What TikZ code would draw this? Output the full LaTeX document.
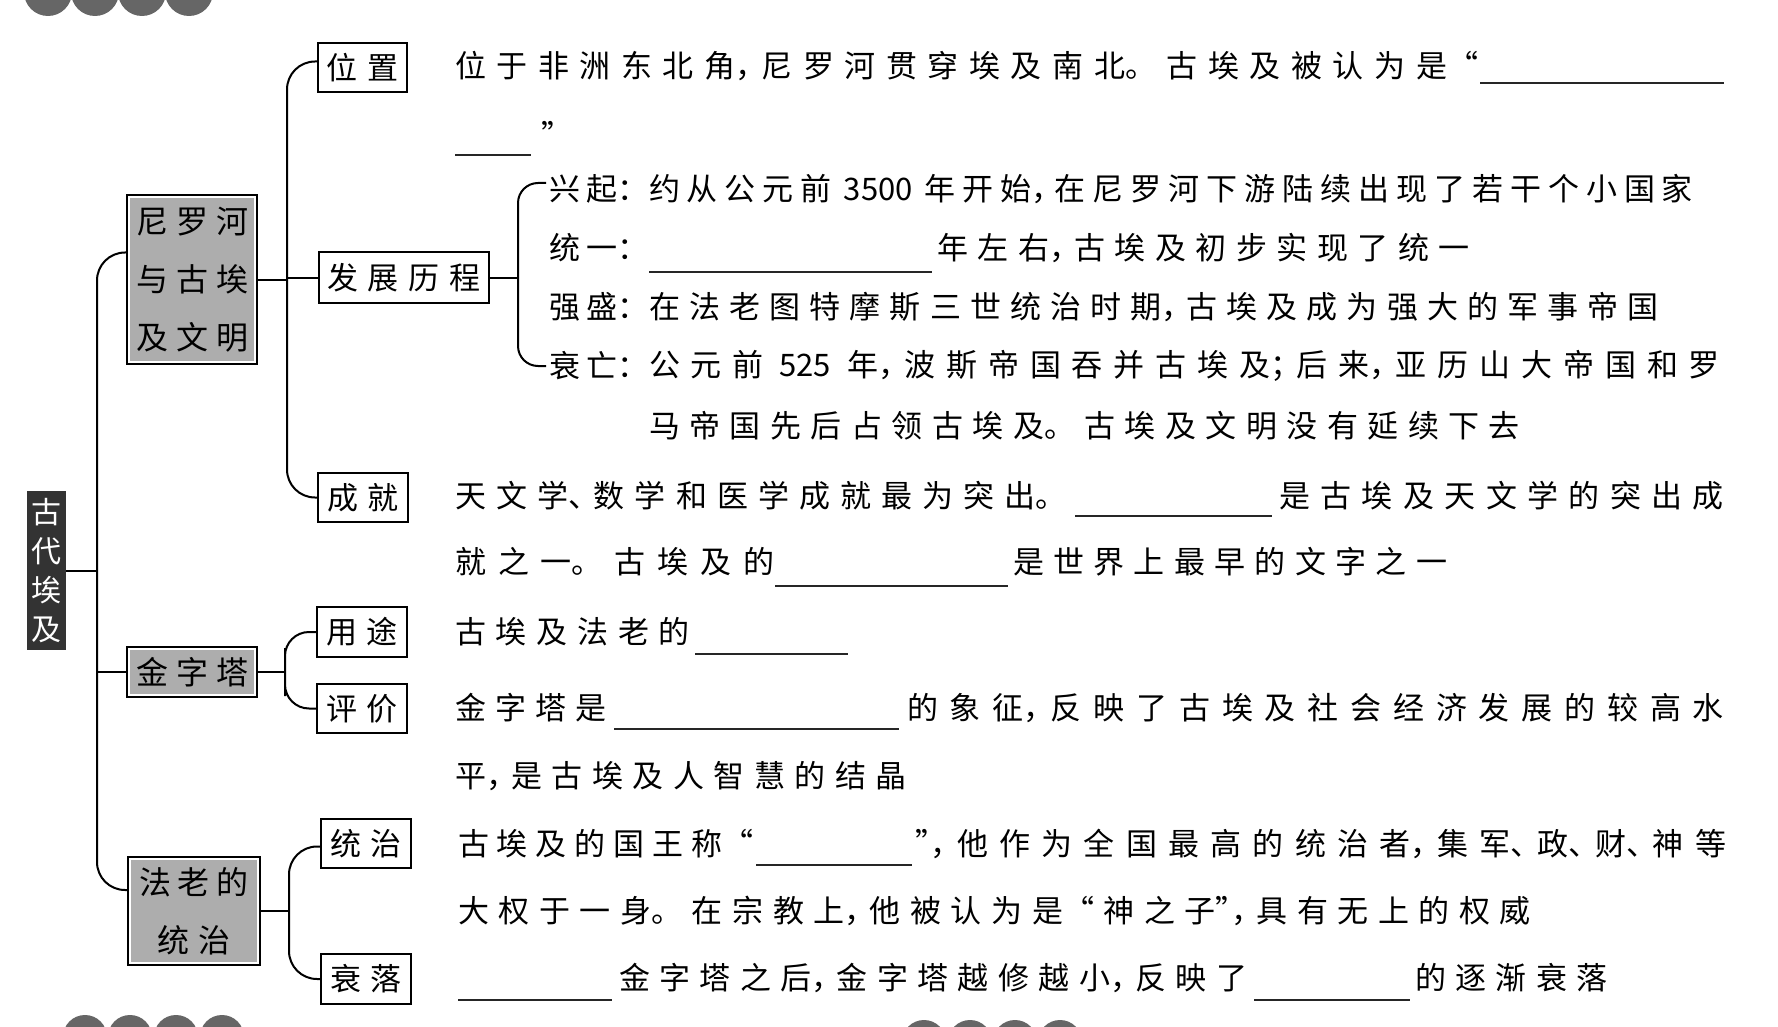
\documentclass[tikz,border=0pt]{standalone}
\usepackage{fontspec}
\setmainfont{Noto Sans CJK SC}
\def\sprstop{\sprstop}
\def\spr#1{\sprA#1\sprstop}
\def\sprA#1{#1\sprB}
\def\sprB#1{\def\sprtmp{#1}\ifx\sprtmp\sprstop\else\hfil#1\expandafter\sprB\fi}
\newcommand\hc[1]{\hbox to .5em{#1\hss}}
\newcommand\txtseg[5]{\node[seg] (#1) at (#2,#3) {\hbox to #4pt{\spr{#5}}};}
\newcommand\blankat[3]{\draw[blankline] (#1,#3) -- (#2,#3);}
\tikzset{
 conn/.style={line width=2pt, draw=black},
 blankline/.style={line width=1.6pt, draw=black!85},
 seg/.style={anchor=west, inner sep=0pt, outer sep=0pt, font=\fontsize{31}{36}\selectfont},
 keybox/.style={draw=black, line width=1.6pt, fill=white, inner sep=0pt, font=\fontsize{31}{36}\selectfont},
 grayinner/.style={path picture={\fill[black!32] ([shift={(3pt,3pt)}]path picture bounding box.south west) rectangle ([shift={(-3pt,-3pt)}]path picture bounding box.north east);}},
 topicbox/.style={draw=black, line width=1.6pt, fill=white, inner sep=0pt, grayinner, align=center, font=\fontsize{32}{58}\selectfont},
 rootbox/.style={fill=black!80, text=white, inner sep=0pt, align=center, font=\fontsize{30}{39}\selectfont},
 deco/.style={fill=black!60},
}
\begin{document}
\begin{tikzpicture}[x=1pt,y=-1pt]
\useasboundingbox (0,0) rectangle (1778,1027);
\fill[white] (0,0) rectangle (1778,1027);
\begin{scope}
\clip (0,0) rectangle (1778,1027);
\foreach \cx in {48,95,142,189} \fill[deco] (\cx,-8) circle (24pt);
\foreach \cx in {85,130,176,222} \fill[deco] (\cx,1037) circle (22pt);
\foreach \cx in {924,970,1015,1060} \fill[deco] (\cx,1042) circle (22pt);
\end{scope}

% main boxes
\node[rootbox, minimum width=39pt, minimum height=159pt] (egypt) at (46.5,570.5) {古\\代\\埃\\及};
\node[topicbox, minimum width=130pt, minimum height=169pt] (nile) at (192,279.5) {\hbox to 112pt{\spr{尼罗河}}\\\hbox to 112pt{\spr{与古埃}}\\\hbox to 112pt{\spr{及文明}}};
\node[topicbox, minimum width=130pt, minimum height=50pt] (pyr) at (192,672) {\hbox to 112pt{\spr{金字塔}}};
\node[topicbox, minimum width=132pt, minimum height=108pt] (phar) at (194,911) {\hbox to 110pt{\spr{法老的}}\\\hbox to 73pt{\spr{统治}}};

% key boxes
\node[keybox, minimum width=89pt, minimum height=49pt] (pos) at (362.5,67.5) {\hbox to 72pt{\spr{位置}}};
\node[keybox, minimum width=170pt, minimum height=51pt] (dev) at (404,277.5) {\hbox to 154pt{\spr{发展历程}}};
\node[keybox, minimum width=90pt, minimum height=49pt] (ach) at (363,497.5) {\hbox to 72pt{\spr{成就}}};
\node[keybox, minimum width=90pt, minimum height=50pt] (use) at (362,632) {\hbox to 72pt{\spr{用途}}};
\node[keybox, minimum width=90pt, minimum height=49pt] (eval) at (362,708.5) {\hbox to 72pt{\spr{评价}}};
\node[keybox, minimum width=90pt, minimum height=49pt] (rule) at (366,843.5) {\hbox to 72pt{\spr{统治}}};
\node[keybox, minimum width=90pt, minimum height=50pt] (decl) at (366,979) {\hbox to 72pt{\spr{衰落}}};

% text: 位置
\txtseg{a1}{455}{66}{1023}{位于非洲东北{角\hc，}尼罗河贯穿埃及南{北。}古埃及被认为{是“}}
\blankat{1480}{1724}{83}
\blankat{455}{531}{155}
\node[seg] (a2) at (541,134) {”};

% 发展历程
\txtseg{b1l}{549}{189}{100}{兴{起：}}
\txtseg{b1}{649}{189}{1044}{约从公元前{\kern5pt 3500\kern5pt}年开{始\hc，}在尼罗河下游陆续出现了若干个小国家}
\txtseg{b2l}{549}{248}{100}{统{一：}}
\blankat{649}{932}{272}
\txtseg{b2}{937}{248}{533}{年左{右\hc，}古埃及初步实现了统一}
\txtseg{b3l}{549}{307}{100}{强{盛：}}
\txtseg{b3}{649}{307}{1010}{在法老图特摩斯三世统治时{期\hc，}古埃及成为强大的军事帝国}
\txtseg{b4l}{549}{366}{100}{衰{亡：}}
\txtseg{b4}{649}{366}{1071}{公元前{\kern5pt 525\kern5pt}{年\hc，}波斯帝国吞并古埃{及\hc；}后{来\hc，}亚历山大帝国和罗}
\txtseg{b5}{649}{426}{871}{马帝国先后占领古埃{及。}古埃及文明没有延续下去}

% 成就
\txtseg{c1}{455}{496}{612}{天文{学\hc、}数学和医学成就最为突{出。}}
\blankat{1075}{1272}{516}
\txtseg{c2}{1279}{496}{445}{是古埃及天文学的突出成}
\txtseg{c3}{455}{562}{320}{就之{一。}古埃及的}
\blankat{775}{1008}{586}
\txtseg{c4}{1013}{562}{434}{是世界上最早的文字之一}

% 用途
\txtseg{d1}{455}{632}{235}{古埃及法老的}
\blankat{695}{848}{654}

% 评价
\txtseg{e1}{455}{708}{152}{金字塔是}
\blankat{614}{899}{729}
\txtseg{e2}{907}{708}{817}{的象{征\hc，}反映了古埃及社会经济发展的较高水}
\txtseg{e3}{455}{776}{452}{{平\hc，}是古埃及人智慧的结晶}

% 统治
\txtseg{f1}{458}{844}{295}{古埃及的国王{称“}}
\blankat{756}{912}{865}
\txtseg{f2}{915}{844}{811}{{\hc”\hc，}他作为全国最高的统治{者\hc，}集{军\hc、}{政\hc、}{财\hc、}神等}
\txtseg{f3}{458}{911}{1073}{大权于一{身。}在宗教{上\hc，}他被认为{是“}神之{子\hc”\hc，}具有无上的权威}

% 衰落
\blankat{458}{612}{1000}
\txtseg{g1}{619}{978}{628}{金字塔之{后\hc，}金字塔越修越{小\hc，}反映了}
\blankat{1254}{1410}{1000}
\txtseg{g2}{1415}{978}{193}{的逐渐衰落}

% connectors
\coordinate (trunk) at (97,570.5);
\draw[conn, rounded corners=28pt] ([yshift=27pt]nile.west) -| (trunk) |- ([yshift=21pt]phar.west);
\draw[conn] (egypt.east) -- (trunk);
\draw[conn] (pyr.west) -- (pyr.west -| trunk);

\coordinate (nb) at (287,279.5);
\draw[conn, rounded corners=28pt] ([yshift=6pt]pos.west) -| (nb) |- (ach.west);
\draw[conn] (nile.east) -- (nb);
\draw[conn] (dev.west) -- (dev.west -| nb);

\coordinate (db) at (518,277.5);
\draw[conn] (dev.east) -- (db);
\draw[conn, rounded corners=20pt] ([xshift=-3pt,yshift=6pt]b1l.west) -| (db) |- ([xshift=-3pt]b4l.west);

\coordinate (pb) at (285,672);
\draw[conn, rounded corners=24pt] (use.west) -| (pb) |- (eval.west);
\draw[conn] (pyr.east) -- (pb);

\coordinate (fb) at (289,911);
\draw[conn, rounded corners=28pt] ([yshift=-3pt]rule.west) -| (fb) |- (decl.west);
\draw[conn] (phar.east) -- (fb);
\end{tikzpicture}
\end{document}
